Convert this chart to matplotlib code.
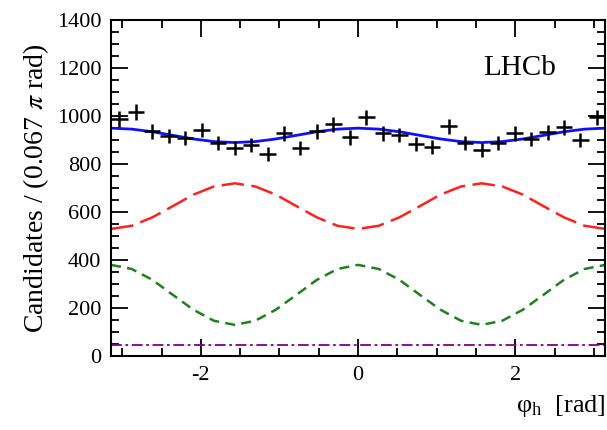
import numpy as np
import matplotlib.pyplot as plt
from matplotlib.ticker import MultipleLocator

plt.rcParams["font.family"] = ["Liberation Serif", "DejaVu Serif"]
plt.rcParams["mathtext.fontset"] = "stix"
plt.rcParams["axes.unicode_minus"] = False

# data points, 30 bins over [-pi, pi]
counts = [988, 1017, 937, 917, 908, 942, 887, 867, 879, 842,
          929, 867, 937, 967, 912, 996, 929, 921, 883, 871,
          958, 887, 858, 887, 929, 904, 933, 954, 900, 996]

# fit components at steps of pi/12
curve_x = [k * np.pi / 12 - np.pi for k in range(25)]
total = [950, 946, 935, 920, 905, 894, 890, 894, 905, 920, 935, 946, 950,
         946, 935, 920, 905, 894, 890, 894, 905, 920, 935, 946, 950]
comp_red = [530, 543, 578, 625, 673, 707, 720, 707, 673, 625, 578, 543, 530,
            543, 578, 625, 673, 707, 720, 707, 673, 625, 578, 543, 530]
comp_green = [380, 363, 318, 255, 193, 147, 130, 147, 193, 255, 318, 363, 380,
              363, 318, 255, 193, 147, 130, 147, 193, 255, 318, 363, 380]
comp_flat = [45] * 25

edges = np.linspace(-np.pi, np.pi, len(counts) + 1)
centers = 0.5 * (edges[:-1] + edges[1:])
half = 0.5 * (edges[1] - edges[0])

fig = plt.figure(figsize=(6.07, 4.30), dpi=100)
ax = fig.add_axes([0.183, 0.172, 0.814, 0.781])

ax.plot(curve_x, comp_flat, color="#800080", lw=1.3, dashes=(6, 2, 1.5, 2))
ax.plot(curve_x, comp_green, color="#208020", lw=1.8, dashes=(4, 2.5))
ax.plot(curve_x, comp_red, color="#ff2020", lw=1.8, dashes=(9, 3))
ax.plot(curve_x, total, color="#1010ff", lw=2)
ax.errorbar(centers, counts, yerr=np.sqrt(counts), xerr=half, fmt="none",
            ecolor="black", elinewidth=1.8, capsize=0)

ax.set_xlim(-np.pi, np.pi)
ax.set_ylim(0, 1400)
ax.xaxis.set_major_locator(MultipleLocator(2))
ax.xaxis.set_minor_locator(MultipleLocator(0.5))
ax.yaxis.set_major_locator(MultipleLocator(200))
ax.yaxis.set_minor_locator(MultipleLocator(50))
ax.tick_params(which="both", direction="in", top=True, right=True,
               labelsize=16, width=1.3, pad=7)
ax.tick_params(which="major", length=12)
ax.tick_params(which="minor", length=6)
for s in ax.spines.values():
    s.set_linewidth(1.5)

ax.set_ylabel(r"Candidates / (0.067 $\pi$ rad)", fontsize=20, labelpad=4)
ax.set_xlabel(r"$\mathregular{\varphi_h}$  [rad]", fontsize=19, loc="right",
              labelpad=6)
ax.text(2.05, 1200, "LHCb", fontsize=21, ha="center", va="center")

fig.savefig("out.png", dpi=100)
